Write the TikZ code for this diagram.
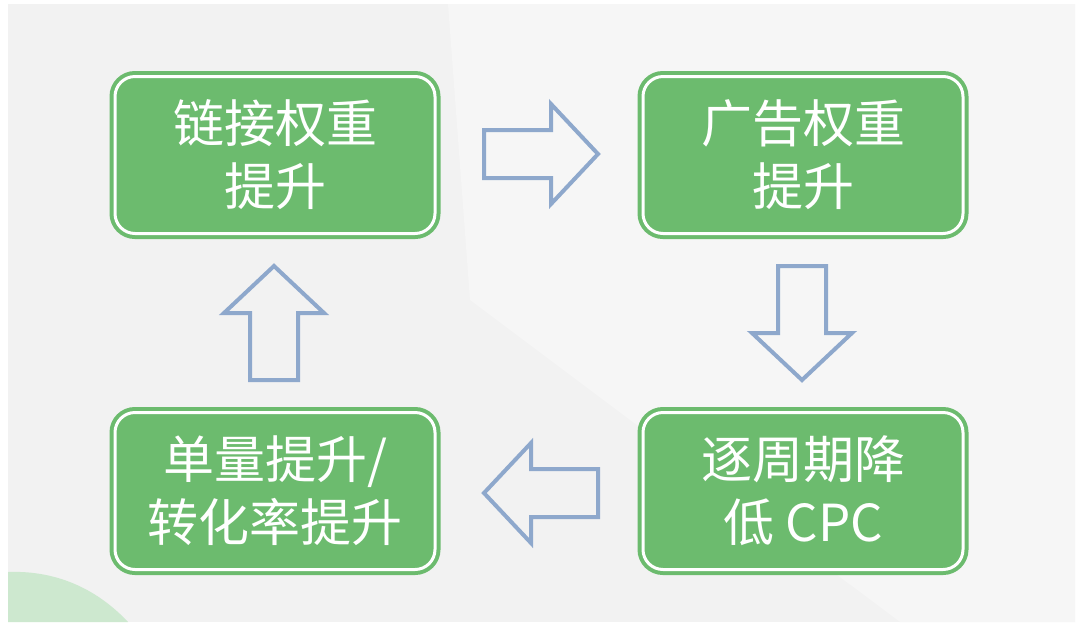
\documentclass[tikz,border=0pt]{standalone}
\usepackage{fontspec}
\usetikzlibrary{calc}
\newfontfamily\cjk{Noto Sans CJK SC}
\definecolor{boxgreen}{HTML}{6CBB6E}
\definecolor{arrowblue}{HTML}{8EA8CC}
\definecolor{bggray}{HTML}{F2F2F2}
\definecolor{bglight}{HTML}{F6F6F6}
\definecolor{blobgreen}{HTML}{CDE8CF}
\tikzset{
  greenbox/.style={rounded corners=20pt, fill=boxgreen, draw=boxgreen,
    double=white, double distance=3pt, line width=4pt,
    minimum width=320pt, minimum height=157pt, inner sep=0pt,
    align=center, text=white, font=\cjk\fontsize{51}{63}\selectfont},
  blockarrow/.style={draw=arrowblue, line width=4pt, line join=miter, fill=none}
}
\newcommand{\myblockarrow}[2]{%
  \begin{scope}[shift={(#1)}, rotate=#2]
    \draw[blockarrow] (-57pt,-24pt) -- (10pt,-24pt) -- (10pt,-50pt) -- (57pt,0pt)
      -- (10pt,50pt) -- (10pt,24pt) -- (-57pt,24pt) -- cycle;
  \end{scope}}
\begin{document}
\begin{tikzpicture}[x=1pt,y=-1pt]
\useasboundingbox (0,0) rectangle (1080,633);
\fill[white] (0,0) rectangle (1080,633);
\fill[bggray] (8,4) rectangle (1075,622);
\fill[bglight] (448,4) -- (1075,4) -- (1075,622) -- (900,622) -- (470,300) -- cycle;
\fill[blobgreen] (8,572) .. controls (60,570) and (100,592) .. (128,622) -- (8,622) -- cycle;

\node[greenbox] (b1) at (275,155) {链接权重\\提升};
\node[greenbox] (b2) at (803,155) {广告权重\\提升};
\node[greenbox] (b3) at (275,491) {单量提升/\\转化率提升};
\node[greenbox] (b4) at (803,491) {逐周期降\\低 CPC};

\coordinate (a12) at ($(b1.east)!0.5!(b2.west)+(2,-1)$);
\coordinate (a24) at ($(b2.south)!0.5!(b4.north)+(-1,0)$);
\coordinate (a43) at ($(b4.west)!0.5!(b3.east)+(2,2)$);
\coordinate (a31) at ($(b3.north)!0.5!(b1.south)+(-1,0)$);
\myblockarrow{a12}{0}
\myblockarrow{a24}{-90}
\myblockarrow{a43}{180}
\myblockarrow{a31}{90}
\end{tikzpicture}
\end{document}
